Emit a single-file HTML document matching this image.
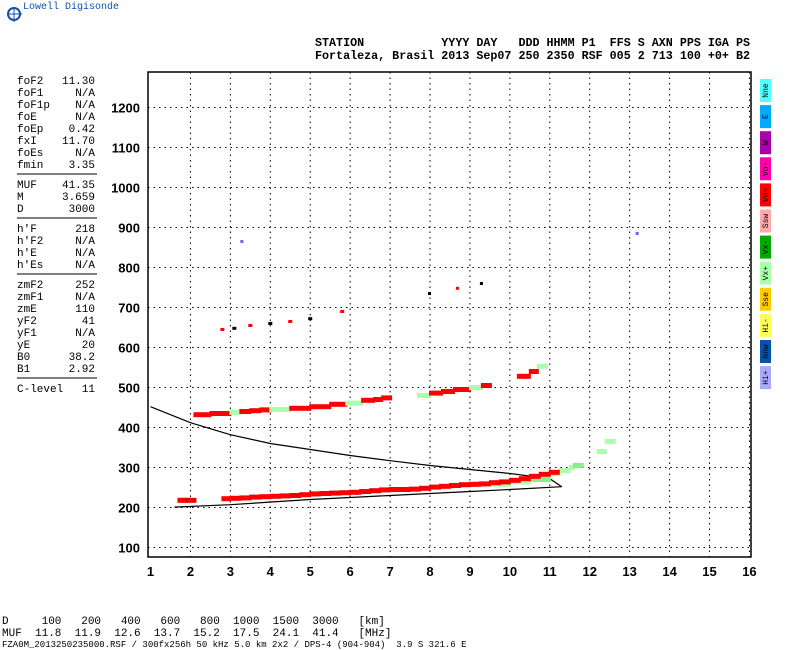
<!DOCTYPE html>
<html><head><meta charset="utf-8"><style>
body{margin:0;background:#fff;width:800px;height:650px;overflow:hidden;font-family:"Liberation Mono",monospace;}
svg{position:absolute;left:0;top:0}
</style></head><body>
<svg id="s" width="800" height="650" xmlns="http://www.w3.org/2000/svg">
<g>
<circle cx="14" cy="14" r="6" fill="none" stroke="#1050b0" stroke-width="2"/>
<line x1="8" y1="14" x2="22" y2="14" stroke="#1050b0"/><line x1="14" y1="8" x2="14" y2="22" stroke="#1050b0"/>
<text x="23" y="9" font-size="10" fill="#1050b0" font-family="Liberation Mono,monospace">Lowell Digisonde</text>
</g>
<g font-size="12" font-weight="bold" font-family="Liberation Mono,monospace">
<text x="315" y="46" textLength="435" lengthAdjust="spacingAndGlyphs" xml:space="preserve">STATION           YYYY DAY   DDD HHMM P1  FFS S AXN PPS IGA PS</text>
<text x="315" y="59" textLength="435" lengthAdjust="spacingAndGlyphs" xml:space="preserve">Fortaleza, Brasil 2013 Sep07 250 2350 RSF 005 2 713 100 +0+ B2</text>
</g>
<g id="params" font-size="11" font-family="Liberation Mono,monospace"></g>
<g id="grid"></g>
<rect x="148" y="72" width="603" height="485" fill="none" stroke="#000" stroke-width="1.5"/>
<g id="curves"></g>
<g id="echoes"></g>
<g id="axes" font-size="13" font-weight="bold" font-family="Liberation Sans,sans-serif"></g>
<g id="legend"></g>
<g font-size="11" font-family="Liberation Mono,monospace">
<text x="2" y="624" xml:space="preserve">D     100   200   400   600   800  1000  1500  3000   [km]</text>
<text x="2" y="636" xml:space="preserve">MUF  11.8  11.9  12.6  13.7  15.2  17.5  24.1  41.4   [MHz]</text>
<text x="2" y="647" font-size="9" xml:space="preserve">FZA0M_2013250235000.RSF / 300fx256h 50 kHz 5.0 km 2x2 / DPS-4 (904-904)  3.9 S 321.6 E</text>
</g>
</svg>
<script>
const NS="http://www.w3.org/2000/svg";
const xTicks=[1,2,3,4,5,6,7,8,9,10,11,12,13,14,15,16];
const yTicks=[100,200,300,400,500,600,700,800,900,1000,1100,1200];
const paramNames=["foF2","foF1","foF1p","foE","foEp","fxI","foEs","fmin","MUF","M","D","h'F","h'F2","h'E","h'Es","zmF2","zmF1","zmE","yF2","yF1","yE","B0","B1","C-level"];
const paramVals=["11.30","N/A","N/A","N/A","0.42","11.70","N/A","3.35","41.35","3.659","3000","218","N/A","N/A","N/A","252","N/A","110","41","N/A","20","38.2","2.92","11"];
const legendLabels=["Nne","E","W","Vo-","Vo+","Ssw","Vx-","Vx+","Sse","Hi-","Nnw","Hi+"];
const legendColors=["#55ffff","#00aaff","#aa00aa","#ff00aa","#ff0000","#ffaaaa","#00aa00","#aaffaa","#ffcc00","#ffff55","#0055aa","#aaaaff"];
const upperFreq=[1.0,2,3,4,5,6,7,8,9,10,11,11.3];
const upperH=[452,412,382,360,345,330,317,305,295,285,272,252];
const lowerFreq=[1.6,3,5,7,9,10,11.3];
const lowerH=[201,207,220,230,240,245,252];
const oFreq=[1.7,1.8,1.9,2.8,3.0,3.25,3.5,3.75,4.0,4.25,4.5,4.75,5.0,5.25,5.5,5.75,6.0,6.25,6.5,6.75,7.0,7.5,7.75,8.0,8.25,8.5,8.75,9.0,9.25,9.5,9.75,10.0,10.25,10.5,10.75,11.0];
const oH=[218,218,218,222,223,224,226,227,228,229,230,232,234,235,236,237,238,240,242,244,245,246,248,251,253,255,257,258,259,262,264,268,272,278,283,288];
const xFreq=[9.5,10.0,10.5,11.0,11.25,11.5,11.6,12.2,12.4];
const xH=[258,264,270,285,292,300,305,340,365];
const hop2Freq=[2.1,2.5,3.0,3.25,3.5,3.75,4.0,4.5,5.0,5.5,5.9,6.3,6.6,6.8,7.7,8.0,8.3,8.6,9.0,9.3,10.2,10.5,10.7];
const hop2H=[432,435,438,440,442,444,445,448,452,458,461,468,470,474,480,486,490,495,500,505,528,540,553];
const hop3Freq=[2.8,3.1,3.5,4.0,4.5,5.0,5.8,8.0,8.7,9.3,3.3,13.2];
const hop3H=[645,648,655,660,665,672,690,735,748,760,865,885];
const X=f=>150.5+(f-1)*39.93;
const Y=h=>547.5-(h-100)*0.4;
function mk(t,a,p){const e=document.createElementNS(NS,t);for(const k in a)e.setAttribute(k,a[k]);p.appendChild(e);return e;}
const grid=document.getElementById('grid'),axes=document.getElementById('axes');
xTicks.forEach(f=>{
 if(f>1){const l=mk('line',{x1:X(f),x2:X(f),y1:72,y2:557,stroke:'#000','stroke-dasharray':'1.5 4'},grid);
 }
 const t=mk('text',{x:X(f),y:576,'text-anchor':'middle'},axes);t.textContent=f;
 
});
yTicks.forEach(h=>{
 const l=mk('line',{x1:148,x2:751,y1:Y(h),y2:Y(h),stroke:'#000','stroke-dasharray':'1.5 4'},grid);
 
 const t=mk('text',{x:140,y:Y(h)+5,'text-anchor':'end'},axes);t.textContent=h;
 
});
const cv=document.getElementById('curves');
[[upperFreq,upperH,'upper-model-curve'],[lowerFreq,lowerH,'lower-model-curve']].forEach(([fs,hs,n])=>{
 const p=mk('polyline',{points:fs.map((f,i)=>X(f)+','+Y(hs[i])).join(' '),fill:'none',stroke:'#000','stroke-width':1.2},cv);
 
});
const ec=document.getElementById('echoes');
function trace(fs,hs,col,alt,n){fs.forEach((f,i)=>{
 let w=11;
 if(i<fs.length-1){const g=(fs[i+1]-f)*39.93;if(g<=20)w=g+2;}
 const c=(i%4===2)?alt:col;
 const r=mk('rect',{x:X(f)-1,y:Y(hs[i])-2.5,width:w,height:5,fill:c},ec);
 });}
trace(xFreq,xH,'#aaffaa','#88ee88','x-trace-echo');
trace(oFreq,oH,'#ff0000','#ee0000','o-trace-echo');
trace(hop2Freq,hop2H,'#ff0000','#aaffaa','second-hop-echo');
hop3Freq.forEach((f,i)=>{const r=mk('rect',{x:X(f)-2,y:Y(hop3H[i])-1.5,width:i<7?4:3,height:3,fill:i>=10?'#6666ff':(i%2?'#000':'#ff0000')},ec);
 });
const lg=document.getElementById('legend');
legendLabels.forEach((s,i)=>{const y=79+i*26.1;
 const r=mk('rect',{x:760,y:y,width:11,height:23,fill:legendColors[i]},lg);
 
 const t=mk('text',{x:0,y:0,'font-size':8,'font-family':'Liberation Mono,monospace','text-anchor':'middle',transform:`translate(768,${y+11.5}) rotate(-90)`},lg);
 t.textContent=s;});
const pp=document.getElementById('params');
const ys=[80,92,104,116,128,140,152,164,184,196,208,228,240,252,264,284,296,308,320,332,344,356,368,388];
paramNames.forEach((n,i)=>{
 const a=mk('text',{x:17,y:ys[i]+4},pp);a.textContent=n;
 const b=mk('text',{x:95,y:ys[i]+4,'text-anchor':'end'},pp);b.textContent=paramVals[i];
});
[174,218,274,378].forEach(y=>{const l=mk('line',{x1:17,x2:97,y1:y,y2:y,stroke:'#000'},pp);
 });
</script>
</body></html>
